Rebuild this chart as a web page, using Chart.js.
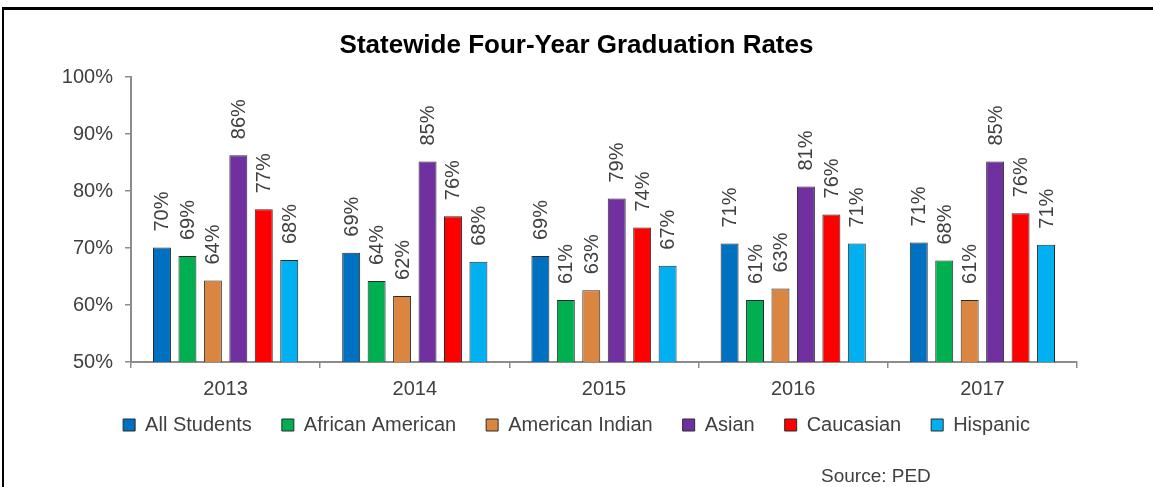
<!DOCTYPE html>
<html>
<head>
<meta charset="utf-8">
<script src="https://cdn.jsdelivr.net/npm/chart.js@4/dist/chart.umd.min.js"></script>
<style>
    html, body { margin: 0; padding: 0; background: #fff; overflow: hidden; }
    #wrap { position: relative; width: 1153px; height: 487px; }
    #frame {
        position: absolute; left: 2px; top: 7px; right: -10px; bottom: -10px;
        border-top: 3px solid #000; border-left: 2px solid #000;
        pointer-events: none;
    }
    #source {
        position: absolute; left: 821px; top: 465px;
        font: 19px "Liberation Sans", Arial, sans-serif; color: #404040;
    }
</style>
</head>
<body>
<div id="wrap">
    <canvas id="gradChart"></canvas>
    <div id="frame"></div>
    <div id="source">Source: PED</div>
</div>
<script>
// Chart data
const years = ['2013', '2014', '2015', '2016', '2017'];
const allStudents = [70.1, 69.2, 68.6, 70.8, 71.0];
const africanAmerican = [68.6, 64.2, 60.9, 60.9, 67.8];
const americanIndian = [64.3, 61.6, 62.6, 62.9, 60.9];
const asian = [86.3, 85.2, 78.7, 80.8, 85.2];
const caucasian = [76.8, 75.6, 73.6, 75.9, 76.1];
const hispanic = [67.9, 67.6, 66.9, 70.8, 70.6];
const yTicks = [50, 60, 70, 80, 90, 100];

const FONT = '"Liberation Sans", Arial, sans-serif';
const TEXT = '#404040';
const AXIS = '#8c8c8c';

// Helper to build a dataset
function makeSet(label, data, color) {
    return {
        label: label,
        data: data,
        backgroundColor: color,
        borderColor: '#2b2b2b',
        borderWidth: 1,
        categoryPercentage: 0.807,
        barPercentage: 0.706
    };
}

// Rotated value labels above each bar
const valueLabels = {
    id: 'valueLabels',
    afterDatasetsDraw(chart) {
        const ctx = chart.ctx;
        ctx.save();
        ctx.font = '20px ' + FONT;
        ctx.fillStyle = TEXT;
        ctx.textAlign = 'left';
        ctx.textBaseline = 'middle';
        chart.data.datasets.forEach((ds, i) => {
            chart.getDatasetMeta(i).data.forEach((bar, j) => {
                ctx.save();
                ctx.translate(bar.x, bar.y - 16);
                ctx.rotate(-Math.PI / 2);
                ctx.fillText(Math.round(ds.data[j]) + '%', 0, 1);
                ctx.restore();
            });
        });
        ctx.restore();
    }
};

// Legend keeps wide item spacing but sits closer to the axis
const legendLift = {
    id: 'legendLift',
    afterLayout(chart) {
        if (!chart.legend) return;
        chart.legend.top -= 11;
        chart.legend.bottom -= 11;
    }
};

document.addEventListener('DOMContentLoaded', function () {
    const ctx = document.getElementById('gradChart').getContext('2d');
    new Chart(ctx, {
        type: 'bar',
        data: {
            labels: years,
            datasets: [
                makeSet('All Students', allStudents, '#0070C0'),
                makeSet('African American', africanAmerican, '#00B050'),
                makeSet('American Indian', americanIndian, '#DA8640'),
                makeSet('Asian', asian, '#7030A0'),
                makeSet('Caucasian', caucasian, '#FF0000'),
                makeSet('Hispanic', hispanic, '#00B0F0')
            ]
        },
        options: {
            responsive: true,
            maintainAspectRatio: false,
            animation: false,
            layout: { padding: { top: 0, left: 0, right: 0, bottom: 31 } },
            scales: {
                x: {
                    offset: true,
                    grid: { display: true, drawOnChartArea: false, offset: true, tickLength: 6, color: AXIS, lineWidth: 1.5 },
                    border: { display: true, color: AXIS, width: 2 },
                    ticks: { color: TEXT, font: { family: FONT, size: 20 }, padding: 9 },
                    afterFit: function (scale) { scale.height = 34; }
                },
                y: {
                    min: 50,
                    max: 100,
                    afterBuildTicks: function (scale) {
                        scale.ticks = yTicks.map(v => ({ value: v }));
                    },
                    grid: { display: true, drawOnChartArea: false, tickLength: 6, color: AXIS, lineWidth: 1.5 },
                    border: { display: true, color: AXIS, width: 2 },
                    ticks: {
                        color: TEXT,
                        font: { family: FONT, size: 20 },
                        padding: 12,
                        callback: function (value) { return value + '%'; }
                    },
                    afterFit: function (scale) { scale.width = 131; }
                },
                yRight: {
                    position: 'right',
                    display: true,
                    grid: { display: false },
                    border: { display: false },
                    ticks: { display: false },
                    afterFit: function (scale) { scale.width = 76; }
                }
            },
            plugins: {
                title: {
                    display: true,
                    text: 'Statewide Four-Year Graduation Rates',
                    color: '#000',
                    font: { family: FONT, size: 26, weight: 'bold' },
                    padding: { top: 30, bottom: 16 }
                },
                legend: {
                    display: true,
                    position: 'bottom',
                    labels: {
                        boxWidth: 12,
                        boxHeight: 12,
                        padding: 30,
                        color: TEXT,
                        font: { family: FONT, size: 20 }
                    }
                },
                tooltip: { enabled: false }
            }
        },
        plugins: [valueLabels, legendLift]
    });
});
</script>
</body>
</html>
